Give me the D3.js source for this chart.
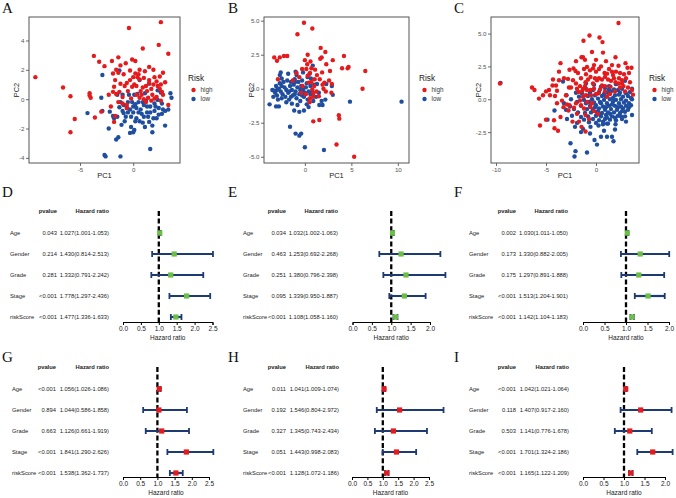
<!DOCTYPE html>
<html><head><meta charset="utf-8">
<script src="https://cdn.jsdelivr.net/npm/d3@7"></script>
<style>body{margin:0;background:#fff}svg{display:block;font-family:"Liberation Sans",Arial,sans-serif}</style>
</head><body><svg width="676" height="498"></svg>
<script>
// ---------------- DATA ----------------
const riskLevels = ["high", "low"];
const aHigh = [[-9.2,1.5],[-6.6,0.8],[-5.9,0.2],[-5.5,-1.35],[-5.9,-2.25],[-4.1,0.4],[-4.1,0.25],[-4.0,0.1],[-3.6,-1.25],[-3.0,-0.85],[-3.7,2.95],[-3.2,2.55],[-2.7,2.25],[-1.4,2.85],[-2.0,2.6],[-0.4,4.85],[2.6,5.25],[2.4,3.7],[0.9,3.45],[3.3,3.1],[-0.1,2.7],[0.2,2.6],[-0.7,2.45],[-1.6,2.0],[-1.4,1.8],[-1.9,1.75],[-0.9,1.7],[-0.3,1.95],[0.2,1.75],[0.5,1.7],[1.1,1.9],[1.9,2.0],[2.5,1.55],[0.0,1.5],[0.4,1.5],[0.6,1.35],[1.0,1.45],[1.5,1.3],[-1.2,1.05],[-0.6,1.1],[-0.1,0.85],[0.1,1.0],[0.3,0.9],[-1.8,0.85],[-1.3,0.5],[-0.5,0.55],[0.7,0.55],[1.3,0.55],[1.9,1.0],[2.3,0.9],[2.6,1.0],[3.0,1.15],[2.5,0.7],[1.8,0.3],[1.4,0.1],[2.0,0.05],[1.0,0.0],[0.6,0.1],[2.8,0.3],[2.6,-0.1],[3.3,-0.4],[-1.6,0.35],[-1.9,0.5],[-1.0,0.15],[-0.2,0.05],[-1.0,-0.3],[-0.6,-0.4],[-2.1,-0.5],[-1.7,-1.15],[-1.8,-1.55],[-0.6,-0.6],[1.7,-0.1],[2.2,0.15],[0.8,0.3],[1.7,0.7],[1.2,0.9],[1.5,1.1],[-0.3,1.3],[2.0,1.5],[2.8,1.8],[0.6,2.0],[-1.2,2.3],[1.5,2.2],[-1.7,1.3],[-0.8,0.9],[2.2,1.2],[0.9,0.8],[-2.3,0.3],[-1.4,-0.2],[0.3,0.3],[1.2,-0.2],[2.7,0.5]];
const aLow = [[-2.9,1.65],[-1.3,1.95],[0.6,1.3],[1.5,1.05],[2.3,0.6],[2.6,0.45],[3.5,0.4],[3.6,0.1],[-3.0,0.1],[-4.3,-0.95],[-2.9,-0.8],[-2.2,-0.85],[-1.9,-1.15],[-1.8,-1.3],[-1.5,-1.2],[-1.2,-0.2],[-1.3,-0.55],[-0.9,-0.4],[-0.5,-0.2],[-0.1,-0.2],[0.2,-0.35],[0.5,-0.2],[0.0,-0.5],[0.3,-0.6],[0.7,-0.7],[-0.7,-1.2],[-0.2,-1.2],[0.3,-1.3],[1.0,-1.2],[1.3,-0.9],[1.6,-0.9],[2.0,-0.8],[2.4,-0.6],[3.0,-0.8],[3.3,-0.7],[2.7,-0.3],[1.0,-0.4],[1.6,-0.5],[-0.9,-0.95],[0.6,-1.5],[1.5,-1.55],[1.8,-1.8],[2.2,-1.3],[2.4,-1.05],[3.0,-1.8],[1.1,-1.9],[-1.1,-1.75],[-2.3,-2.0],[-0.2,-1.9],[0.1,-2.1],[0.0,-2.25],[-0.3,-2.3],[1.8,-2.25],[-1.6,-2.75],[-1.4,-2.6],[-2.7,-3.8],[-2.6,-3.9],[-1.2,-3.9],[1.6,-3.4],[0.2,-1.5],[-0.5,-0.9],[0.8,-1.0],[1.2,-0.1],[2.0,-0.3],[2.3,-0.05],[-0.4,0.3],[0.4,0.35],[0.1,0.3],[-1.5,0.3],[-1.0,0.3],[1.1,0.4],[0.9,-0.2],[-0.6,-0.6],[1.9,-1.3],[2.7,-1.0],[-0.3,-0.7],[0.5,-0.9],[1.3,-0.5],[2.1,-0.5],[-1.0,-0.8],[0.9,-1.6],[1.4,-1.2],[2.8,-0.7],[-0.8,-1.5],[0.0,-0.9]];
const bHigh = [[-0.1,4.85],[0.8,4.43],[-0.8,4.0],[-3.3,2.3],[-3.0,2.05],[-2.7,2.3],[-2.25,2.4],[-1.9,2.4],[0.3,2.5],[1.7,3.0],[2.2,2.7],[1.8,2.3],[1.65,2.2],[3.0,2.1],[4.2,2.4],[4.0,1.5],[4.6,1.5],[4.7,1.6],[6.5,1.3],[6.2,0.0],[-0.3,1.45],[0.15,1.45],[0.7,1.5],[0.25,1.8],[0.6,2.0],[0.0,2.1],[0.55,1.15],[-0.9,1.15],[-2.9,0.7],[-1.3,0.6],[-0.25,0.2],[0.7,0.5],[1.05,0.7],[1.6,0.7],[1.85,1.2],[2.7,1.3],[2.6,0.6],[2.9,0.35],[2.1,0.45],[2.0,0.0],[2.25,-0.2],[1.25,-0.2],[0.8,-0.05],[0.9,-0.35],[0.1,-0.4],[0.9,-0.6],[0.55,-0.7],[2.85,-0.3],[0.9,-2.4],[1.55,-2.3],[3.65,-1.95],[3.7,-2.2],[3.4,-4.1],[5.3,-5.0],[-0.4,-0.3],[0.4,0.45],[1.3,1.0],[2.3,1.8],[1.0,0.2],[0.3,0.95],[-0.6,0.85],[1.5,-0.55],[0.5,-1.0],[1.9,0.3],[1.1,1.4]];
const bLow = [[-3.8,-1.15],[-3.1,-1.3],[-2.8,-1.3],[-2.7,1.0],[-2.5,0.75],[-3.0,-0.1],[-3.3,-0.15],[-1.6,-2.8],[-1.0,-3.3],[-0.4,-3.3],[-0.6,-3.45],[0.0,-4.3],[2.05,-4.5],[4.85,-0.95],[10.4,-0.95],[2.9,0.2],[2.3,0.35],[3.0,-0.45],[1.9,-1.2],[1.55,-1.2],[0.4,-1.35],[0.2,-1.15],[-0.1,-1.6],[-0.6,-1.7],[-1.15,-1.6],[-1.0,1.25],[-1.05,0.5],[0.3,0.85],[0.65,0.75],[0.85,1.7],[1.3,0.35],[-3.5,-0.1],[-3.2,-0.3],[-3.0,-0.5],[-2.8,0.0],[-2.6,-0.2],[-2.4,-0.4],[-2.2,0.1],[-2.0,-0.1],[-1.8,-0.3],[-1.6,0.2],[-1.4,-0.1],[-1.2,0.3],[-1.0,-0.2],[-0.8,0.1],[-0.6,-0.4],[-0.4,0.2],[-0.2,-0.1],[0.1,0.1],[0.4,-0.2],[-2.9,-0.8],[-2.5,-0.7],[-2.1,-0.6],[-1.7,-0.8],[-1.3,-0.5],[-0.9,-0.7],[-0.5,-0.9],[-0.1,-0.6],[0.3,-0.8],[0.6,-0.4],[0.9,-0.9],[1.2,-0.6],[-2.3,0.5],[-1.9,0.6],[-1.5,0.5],[-1.1,0.7],[-0.7,0.5],[-0.3,0.6],[0.2,0.4],[0.6,0.2],[1.0,0.3],[-2.7,0.4],[-3.1,0.2],[-2.0,-1.0],[-1.4,-1.1],[-0.8,-1.2],[-1.7,-0.2],[-1.1,-0.4],[-0.5,-0.1],[0.0,-0.3],[-2.5,0.2],[-1.5,-0.6],[-0.3,-0.5],[0.8,-0.2],[1.5,-0.3],[1.8,-0.9],[2.2,-0.8],[-3.4,-0.6],[-2.6,1.2],[-1.8,1.1],[-0.9,1.0],[-0.2,1.2],[0.5,1.1]];
const cHigh = [[-9.6,1.2],[-6.4,0.9],[-6.15,0.7],[-5.7,0.05],[-5.3,0.3],[-5.6,-2.0],[-5.0,-1.55],[-4.7,0.7],[-4.35,1.05],[-4.0,1.05],[-4.1,0.25],[-3.9,0.65],[-3.7,1.45],[-3.55,2.75],[-3.7,2.1],[-3.4,-0.1],[-3.25,-0.6],[-3.55,-1.35],[-4.15,-2.2],[-3.8,-2.4],[-2.65,2.25],[-2.25,2.35],[-2.05,2.15],[-2.3,1.45],[-2.8,1.55],[-2.65,-0.45],[-2.2,-0.65],[-2.35,-1.7],[-1.45,-2.1],[-1.05,-2.45],[-1.25,4.45],[-0.65,4.85],[-1.45,3.2],[-1.3,3.2],[0.35,4.7],[0.65,4.35],[0.7,3.55],[2.25,5.8],[1.95,3.2],[2.25,2.55],[2.95,2.75],[3.15,2.4],[3.55,2.4],[3.6,0.7],[3.7,0.35],[-0.9,2.45],[-0.3,2.35],[0.85,2.0],[1.1,1.95],[1.7,1.85],[1.95,1.3],[2.25,1.2],[2.6,1.45],[2.75,1.0],[1.45,0.95],[0.6,1.05],[0.1,1.45],[-0.55,1.7],[-1.05,1.3],[-1.3,0.8],[-1.75,0.55],[-0.55,0.7],[0.25,0.45],[1.1,0.2],[-1.3,0.2],[-0.9,-0.2],[-1.5,-0.45],[-0.55,-0.6],[-1.05,-1.2],[-1.9,-1.1],[-2.75,-0.85],[-1.8,2.0],[-1.2,2.3],[-1.0,1.9],[-0.6,2.2],[-0.2,2.6],[0.0,2.1],[0.3,2.3],[0.5,2.5],[1.3,2.3],[1.6,2.1],[2.0,2.1],[2.4,2.0],[2.8,1.9],[3.3,2.0],[-2.0,1.2],[-1.6,1.0],[-1.1,1.0],[-0.8,1.5],[-0.3,1.2],[0.3,1.6],[0.6,1.5],[0.9,1.7],[1.2,1.5],[1.5,1.4],[1.8,1.6],[2.3,1.6],[3.0,1.6],[3.4,1.3],[-2.5,0.9],[-1.9,0.8],[-1.4,0.6],[-0.9,0.7],[-0.2,0.8],[0.4,0.75],[0.9,0.6],[1.4,0.4],[1.9,0.6],[2.4,0.9],[2.9,0.6],[3.2,0.9],[-1.0,0.3],[-0.5,0.3],[0.0,0.4],[-1.6,-0.1],[-2.0,-0.3],[-1.2,-0.7],[-0.4,-0.3],[-0.2,-0.9],[-2.9,-0.4],[-3.0,0.3],[-2.7,0.9],[-3.2,1.6],[-4.3,1.5],[-4.6,0.3],[-3.9,-0.3],[-5.0,0.6],[-4.2,-1.6],[-1.7,-1.7],[0.2,-1.1],[-0.7,-1.5],[-1.1,3.0],[0.0,3.0],[-0.4,3.6],[1.0,2.9],[-2.0,2.9],[1.6,2.6],[0.9,1.0],[-0.1,1.6],[-1.5,1.6],[2.6,1.2]];
const cLow = [[-9.55,1.25],[-4.85,-1.55],[-4.15,-0.85],[-2.95,0.3],[-3.3,1.35],[-2.55,-3.35],[-2.05,-3.95],[-2.15,-4.35],[-0.9,-4.05],[-0.15,-3.1],[0.1,-3.45],[0.5,-2.85],[1.1,-2.85],[1.6,-2.85],[1.75,-3.2],[-1.3,-2.25],[-0.55,-2.1],[0.25,-2.0],[1.1,-1.85],[1.95,-1.9],[3.6,-1.2],[3.6,0.8],[-1.0,0.8],[0.9,0.85],[1.8,0.75],[2.6,0.8],[-0.3,0.7],[2.2,0.7],[-2.0,0.5],[-1.4,0.45],[-0.6,0.5],[0.3,0.55],[1.2,0.5],[1.5,0.6],[2.4,0.5],[3.0,0.45],[3.4,0.55],[-1.7,0.2],[-0.8,0.25],[-0.1,0.3],[0.6,0.25],[1.0,0.2],[1.9,0.3],[2.7,0.2],[3.2,0.25],[3.5,0.1],[-2.5,0.0],[-1.2,-0.05],[-0.4,0.0],[0.2,0.05],[0.8,-0.05],[1.4,0.0],[2.0,-0.05],[2.5,0.0],[3.0,-0.1],[3.6,0.0],[-3.2,-0.3],[-1.9,-0.2],[-1.0,-0.3],[-0.2,-0.25],[0.4,-0.2],[1.1,-0.3],[1.7,-0.2],[2.3,-0.3],[2.8,-0.25],[3.3,-0.3],[-2.6,-0.55],[-1.5,-0.5],[-0.6,-0.5],[0.0,-0.45],[0.7,-0.55],[1.3,-0.5],[1.9,-0.5],[2.5,-0.55],[3.0,-0.5],[3.5,-0.45],[-3.0,-0.8],[-2.2,-0.75],[-0.9,-0.75],[-0.3,-0.8],[0.3,-0.7],[0.9,-0.8],[1.5,-0.75],[2.1,-0.8],[2.7,-0.7],[3.2,-0.8],[-1.8,-1.0],[-1.1,-1.05],[-0.5,-1.0],[0.1,-1.0],[0.6,-1.05],[1.2,-1.0],[1.8,-1.0],[2.4,-1.05],[2.9,-0.95],[-2.4,-1.25],[-0.8,-1.3],[0.0,-1.25],[0.5,-1.3],[1.0,-1.2],[1.6,-1.3],[2.2,-1.25],[-1.5,-1.35],[-2.9,-1.5],[-1.2,-1.55],[-0.3,-1.5],[0.3,-1.6],[0.9,-1.5],[1.4,-1.55],[2.6,-1.5],[2.0,-1.6],[-1.9,-1.8],[-0.7,-1.75],[0.0,-1.8],[0.7,-1.7],[1.2,-1.85],[3.0,-1.7],[-2.1,-2.1],[-1.0,1.2],[-0.2,1.1],[0.5,0.95],[1.3,1.0],[2.9,1.4],[2.0,1.15],[-0.6,-2.6],[0.8,-2.4],[1.9,-2.3],[-1.5,-2.5],[0.5,-0.3],[1.0,-0.6],[1.6,-0.4],[2.2,-0.6],[0.2,-0.9],[1.4,-1.1],[2.6,-0.9],[0.8,0.4],[1.7,0.1],[2.3,0.35],[1.1,-1.4],[0.4,-1.15],[2.9,-1.3],[3.3,-0.6],[-0.1,-0.6],[-0.7,-0.2],[1.3,0.75],[2.5,-1.3],[0.7,-1.9],[1.9,-1.4]];

const variables = ["Age", "Gender", "Grade", "Stage", "riskScore"];
const pD = ["0.043","0.214","0.281","<0.001","<0.001"];
const hrD = [1.027, 1.430, 1.332, 1.778, 1.477];
const loD = [1.001, 0.814, 0.791, 1.297, 1.336];
const hiD = [1.053, 2.513, 2.242, 2.436, 1.633];
const pE = ["0.034","0.463","0.251","0.095","<0.001"];
const hrE = [1.032, 1.253, 1.380, 1.339, 1.108];
const loE = [1.002, 0.692, 0.796, 0.950, 1.058];
const hiE = [1.063, 2.268, 2.398, 1.887, 1.160];
const pF = ["0.002","0.173","0.175","<0.001","<0.001"];
const hrF = [1.030, 1.330, 1.297, 1.513, 1.142];
const loF = [1.011, 0.882, 0.891, 1.204, 1.104];
const hiF = [1.050, 2.005, 1.888, 1.901, 1.183];
const pG = ["<0.001","0.894","0.663","<0.001","<0.001"];
const hrG = [1.056, 1.044, 1.126, 1.841, 1.538];
const loG = [1.026, 0.586, 0.661, 1.290, 1.362];
const hiG = [1.086, 1.858, 1.919, 2.626, 1.737];
const pH = ["0.011","0.192","0.327","0.051","<0.001"];
const hrH = [1.041, 1.546, 1.345, 1.443, 1.128];
const loH = [1.009, 0.804, 0.743, 0.998, 1.072];
const hiH = [1.074, 2.972, 2.434, 2.083, 1.186];
const pI = ["<0.001","0.118","0.503","<0.001","<0.001"];
const hrI = [1.042, 1.407, 1.141, 1.701, 1.165];
const loI = [1.021, 0.917, 0.776, 1.324, 1.122];
const hiI = [1.064, 2.160, 1.678, 2.186, 1.209];

const ticksHR25 = [0, 0.5, 1.0, 1.5, 2.0, 2.5];
const ticksHR20 = [0, 0.5, 1.0, 1.5, 2.0];

// ---------------- DRAW ----------------
const svg = d3.select("svg");
const RED = "#E41A1C", BLUE = "#1F4E9F", GREEN = "#6CBE45", NAVY = "#1D3A72";

function letter(t, x, y) {
  svg.append("text").attr("x", x).attr("y", y).text(t)
    .attr("font-family", "'Liberation Serif','Times New Roman',serif")
    .attr("font-size", 15).attr("fill", "#111");
}

function scatter(c) {
  const g = svg.append("g");
  const x = d3.scaleLinear().domain(c.xd).range([c.l, c.r]);
  const y = d3.scaleLinear().domain(c.yd).range([c.b, c.t]);
  const fmt = c.fmt ? d3.format(c.fmt) : (d => d);
  const ax = g.append("g").attr("transform", `translate(0,${c.b})`)
    .call(d3.axisBottom(x).tickValues(c.xt).tickSize(3).tickPadding(1.5).tickFormat(d => (d < 0 ? "-" : "") + Math.abs(d)));
  const ay = g.append("g").attr("transform", `translate(${c.l},0)`)
    .call(d3.axisLeft(y).tickValues(c.yt).tickSize(3).tickPadding(1.5).tickFormat(d => (d < 0 ? "-" : "") + fmt(Math.abs(d))));
  [ax, ay].forEach(a => {
    a.select(".domain").remove();
    a.selectAll(".tick line").attr("stroke", "#444").attr("stroke-width", 0.8);
    a.selectAll(".tick text").attr("font-size", 6.2).attr("fill", "#555").attr("font-family", "'Liberation Sans',Arial,sans-serif");
  });
  const pts = g.append("g");
  c.low.forEach(d => pts.append("circle").attr("cx", x(d[0])).attr("cy", y(d[1])).attr("r", 2.2).attr("fill", BLUE));
  c.high.forEach(d => pts.append("circle").attr("cx", x(d[0])).attr("cy", y(d[1])).attr("r", 2.2).attr("fill", RED));
  g.append("rect").attr("x", c.l).attr("y", c.t).attr("width", c.r - c.l).attr("height", c.b - c.t)
    .attr("fill", "none").attr("stroke", "#555").attr("stroke-width", 1);
  g.append("text").attr("x", (c.l + c.r) / 2).attr("y", c.b + 15).attr("text-anchor", "middle")
    .attr("font-size", 7.5).attr("fill", "#222").text("PC1");
  g.append("text").attr("transform", `translate(${c.l - 10},${(c.t + c.b) / 2}) rotate(-90)`).attr("text-anchor", "middle")
    .attr("font-size", 7.5).attr("fill", "#222").text("PC2");
  // legend
  g.append("text").attr("x", c.lx).attr("y", 81).attr("font-size", 8.3).attr("fill", "#222").text("Risk");
  riskLevels.forEach((k, i) => {
    g.append("circle").attr("cx", c.lx + 5.5).attr("cy", 90 + i * 9).attr("r", 2.2).attr("fill", k === "high" ? RED : BLUE);
    g.append("text").attr("x", c.lx + 12.5).attr("y", 92.3 + i * 9).attr("font-size", 6.3).attr("fill", "#333").text(k);
  });
}

scatter({l: 29, r: 180, t: 17, b: 163, xd: [-9.8, 4.4], yd: [-4.35, 5.6], xt: [-5, 0], yt: [-4, -2, 0, 2, 4], high: aHigh, low: aLow, lx: 188});
scatter({l: 264, r: 409, t: 17, b: 163, xd: [-4.4, 11.2], yd: [-5.46, 5.27], xt: [0, 5, 10], yt: [-5, -2.5, 0, 2.5, 5], fmt: ".1f", high: bHigh, low: bLow, lx: 419});
scatter({l: 491, r: 639, t: 17, b: 163, xd: [-10.5, 4.3], yd: [-4.85, 6.26], xt: [-10, -5, 0], yt: [-2.5, 0, 2.5, 5], fmt: ".1f", high: cHigh, low: cLow, lx: 649});
letter("A", 2, 13); letter("B", 228, 13); letter("C", 454, 13);

function forest(c) {
  const g = svg.append("g");
  const rowY = i => c.y0 + 22 + i * 21;
  const fs = 5.8;
  g.append("text").attr("x", c.xp).attr("y", c.y0 + 2).attr("text-anchor", "end").attr("font-size", fs).attr("font-weight", "bold").attr("fill", "#222").text("pvalue");
  g.append("text").attr("x", c.xh).attr("y", c.y0 + 2).attr("text-anchor", "end").attr("font-size", fs).attr("font-weight", "bold").attr("fill", "#222").text("Hazard ratio");
  const x = d3.scaleLinear().domain([0, c.max]).range([c.a0, c.a1]);
  const axisY = rowY(4) + c.gap;
  // reference line
  g.append("line").attr("x1", x(1)).attr("x2", x(1)).attr("y1", c.y0).attr("y2", axisY)
    .attr("stroke", "#000").attr("stroke-width", 2.3).attr("stroke-dasharray", "5,2.6");
  variables.forEach((v, i) => {
    const yy = rowY(i);
    g.append("text").attr("x", c.xl).attr("y", yy + 2).attr("font-size", fs).attr("fill", "#222").text(v);
    g.append("text").attr("x", c.xp).attr("y", yy + 2).attr("text-anchor", "end").attr("font-size", fs).attr("fill", "#222").text(c.p[i]);
    g.append("text").attr("x", c.xh).attr("y", yy + 2).attr("text-anchor", "end").attr("font-size", fs).attr("fill", "#222")
      .text(c.hr[i].toFixed(3) + "(" + c.lo[i].toFixed(3) + "-" + c.hi[i].toFixed(3) + ")");
    g.append("line").attr("x1", x(c.lo[i])).attr("x2", x(c.hi[i])).attr("y1", yy).attr("y2", yy).attr("stroke", NAVY).attr("stroke-width", 2.2);
    [c.lo[i], c.hi[i]].forEach(e => g.append("line").attr("x1", x(e)).attr("x2", x(e)).attr("y1", yy - 3).attr("y2", yy + 3).attr("stroke", NAVY).attr("stroke-width", 1.8));
    g.append("rect").attr("x", x(c.hr[i]) - 2.6).attr("y", yy - 2.6).attr("width", 5.2).attr("height", 5.2).attr("fill", c.col);
  });
  const ax = g.append("g").attr("transform", `translate(0,${axisY})`)
    .call(d3.axisBottom(x).tickValues(c.ticks).tickSize(3).tickPadding(1.5).tickFormat(d3.format(".1f")));
  ax.select(".domain").attr("stroke", "#000").attr("stroke-width", 1);
  ax.selectAll(".tick line").attr("stroke", "#000");
  ax.selectAll(".tick text").attr("font-size", 6.5).attr("fill", "#222").attr("font-family", "'Liberation Sans',Arial,sans-serif");
  g.append("text").attr("x", (c.a0 + c.a1) / 2).attr("y", axisY + 18).attr("text-anchor", "middle").attr("font-size", 6.5).attr("fill", "#222").text("Hazard ratio");
}

forest({y0: 211, xl: 10, xp: 57, xh: 109, a0: 123, a1: 212.5, max: 2.5, ticks: ticksHR25, gap: 5, p: pD, hr: hrD, lo: loD, hi: hiD, col: GREEN});
forest({y0: 211, xl: 243, xp: 286, xh: 338, a0: 352.5, a1: 430, max: 2.0, ticks: ticksHR20, gap: 5, p: pE, hr: hrE, lo: loE, hi: hiE, col: GREEN});
forest({y0: 211, xl: 469, xp: 516, xh: 568, a0: 583, a1: 669, max: 2.0, ticks: ticksHR20, gap: 5, p: pF, hr: hrF, lo: loF, hi: hiF, col: GREEN});
forest({y0: 367, xl: 12, xp: 56, xh: 109, a0: 123, a1: 209, max: 2.5, ticks: ticksHR25, gap: 4, p: pG, hr: hrG, lo: loG, hi: hiG, col: RED});
forest({y0: 367, xl: 243, xp: 286, xh: 339, a0: 352, a1: 429, max: 2.5, ticks: ticksHR25, gap: 4, p: pH, hr: hrH, lo: loH, hi: hiH, col: RED});
forest({y0: 367, xl: 469, xp: 516, xh: 569, a0: 583, a1: 665, max: 2.0, ticks: ticksHR20, gap: 4, p: pI, hr: hrI, lo: loI, hi: hiI, col: RED});
letter("D", 2, 197); letter("E", 228, 197); letter("F", 454, 197);
letter("G", 2, 362); letter("H", 228, 362); letter("I", 454, 362);
</script></body></html>
